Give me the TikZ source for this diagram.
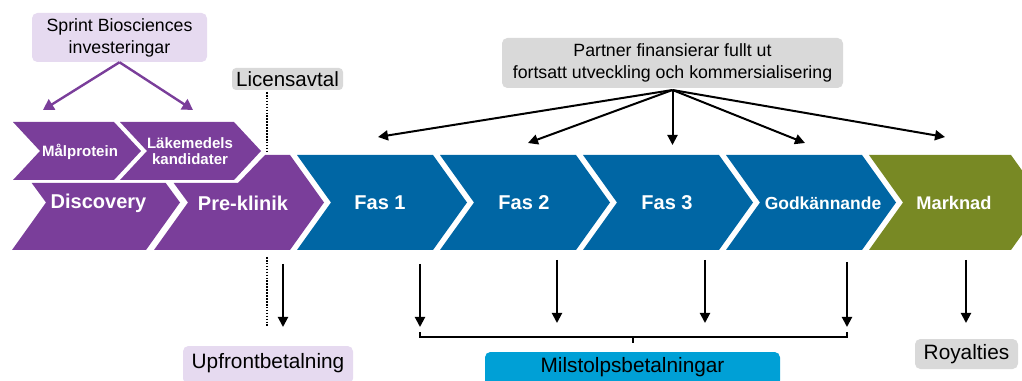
\documentclass[tikz,border=0pt]{standalone}
\usepackage{fontspec}
\setmainfont{Liberation Sans}
\usetikzlibrary{arrows.meta}
\definecolor{cpurple}{RGB}{122,62,154}
\definecolor{cblue}{RGB}{0,102,164}
\definecolor{cgreen}{RGB}{120,137,36}
\definecolor{lpurple}{RGB}{230,218,240}
\definecolor{lgray}{RGB}{217,217,217}
\definecolor{cyanbox}{RGB}{0,160,214}
\newcommand\bigchev[4]{% color, L, W, name
  \fill[#1] (#2,155) -- ({#2+#3},155) -- ({#2+#3+34},202.5) -- ({#2+#3},250) -- (#2,250) -- ({#2+34},202.5) -- cycle;}
\begin{document}
\begin{tikzpicture}[x=0.75pt,y=-0.75pt,
  arr/.style={line width=1.5pt,-{Triangle[length=7.5pt,width=7.5pt]}},
  parr/.style={line width=1.8pt,draw=cpurple,-{Triangle[length=8pt,width=9pt]}},
  blbl/.style={text=white,font=\bfseries\fontsize{15}{17}\selectfont,inner sep=0pt},
  slbl/.style={text=white,font=\bfseries\fontsize{11.25}{12}\selectfont,inner sep=0pt,align=center},
  box/.style={rounded corners=4pt,inner sep=0pt,text=black,align=center},
  bigtxt/.style={font=\fontsize{15.6}{18}\selectfont}]
\useasboundingbox (0,0) rectangle (1022,381);

% big chevrons
\fill[cpurple] (31.7,183) -- (165.7,183) -- (180,202.5) -- (146,250) -- (12,250) -- (46,202.5) -- cycle;
\fill[cpurple] (173.7,183) -- (238,183) -- (265,155) -- (290,155) -- (324,202.5) -- (290,250) -- (154,250) -- (188,202.5) -- cycle;
\bigchev{cblue}{297}{136}{f1}
\bigchev{cblue}{440}{136}{f2}
\bigchev{cblue}{583}{136}{f3}
\bigchev{cblue}{726}{136}{gk}
\bigchev{cgreen}{869}{142}{mk}

% small chevrons
\fill[cpurple] (13,122) -- (114,122) -- (141,151) -- (114,180) -- (13,180) -- (40,151) -- cycle;
\fill[cpurple] (120,122) -- (234,122) -- (261,151) -- (234,180) -- (120,180) -- (147,151) -- cycle;

% chevron labels
\node[slbl] (malp) at (80,152) {Målprotein};
\node[slbl] (lak) at (190,151) {Läkemedels\\kandidater};
\node[blbl] (disc) at (98.5,203) {Discovery};
\node[blbl] (prek) at (243,203) {Pre-klinik};
\node[blbl] (fas1) at (380,203) {Fas 1};
\node[blbl] (fas2) at (524,203) {Fas 2};
\node[blbl] (fas3) at (667,203) {Fas 3};
\node[blbl,font=\bfseries\fontsize{13.1}{15}\selectfont] (godk) at (823,203) {Godkännande};
\node[blbl,font=\bfseries\fontsize{13.7}{15}\selectfont] (mark) at (954,203) {Marknad};

% boxes
\node[box,fill=lpurple,minimum width=131.25pt,minimum height=36.75pt,
  font=\fontsize{13.3}{16.5}\selectfont] (sprint) at (119.5,37.5) {Sprint Biosciences\\investeringar};
\node[box,fill=lgray,minimum width=83.25pt,minimum height=16.5pt,
  font=\fontsize{15.4}{18}\selectfont,rounded corners=3pt] (lic) at (287.5,79) {Licensavtal};
\node[box,fill=lgray,minimum width=255.75pt,minimum height=37.5pt,
  font=\fontsize{13.3}{16.5}\selectfont] (partner) at (672.5,63) {Partner finansierar fullt ut\\fortsatt utveckling och kommersialisering};
\node[box,fill=lpurple,minimum width=127.5pt,minimum height=28.5pt,bigtxt,
  text depth=0pt] (upf) at (268,365) {};
\node[bigtxt] (upft) at (268,363) {Upfrontbetalning};
\node[box,fill=cyanbox,minimum width=221.25pt,minimum height=25.5pt] (mil) at (632.5,369) {};
\node[bigtxt] (milt) at (632.5,367) {Milstolpsbetalningar};
\node[box,fill=lgray,minimum width=77.25pt,minimum height=22.5pt,bigtxt] (roy) at (966.5,354) {Royalties};

% sprint arrows
\coordinate (s1) at (43,110);
\coordinate (s2) at (193,110);
\draw[parr] (sprint.south) -- (s1);
\draw[parr] (sprint.south) -- (s2);

% partner arrows
\coordinate (p0) at (672.5,90);
\coordinate (t1) at (378,137);
\coordinate (t2) at (528,143);
\coordinate (t3) at (672.5,145);
\coordinate (t4) at (805,143);
\coordinate (t5) at (945,137);
\foreach \t in {t1,t2,t3,t4,t5} \draw[arr] (p0) -- (\t);

% dotted license line
\coordinate (d1) at (267,92);
\coordinate (d2) at (267,153);
\coordinate (d3) at (267,257);
\coordinate (d4) at (267,327);
\draw[densely dotted,line width=1.2pt] (d1) -- (d2);
\draw[densely dotted,line width=1.2pt] (d3) -- (d4);

% payment arrows
\coordinate (u1) at (283,264); \coordinate (u2) at (283,327);
\coordinate (m1a) at (420,264); \coordinate (m1b) at (420,327);
\coordinate (m2a) at (557,260); \coordinate (m2b) at (557,323);
\coordinate (m3a) at (705,260); \coordinate (m3b) at (705,323);
\coordinate (m4a) at (847,262); \coordinate (m4b) at (847,327);
\coordinate (r1) at (966,260); \coordinate (r2) at (966,323);
\draw[arr] (u1) -- (u2);
\draw[arr] (m1a) -- (m1b);
\draw[arr] (m2a) -- (m2b);
\draw[arr] (m3a) -- (m3b);
\draw[arr] (m4a) -- (m4b);
\draw[arr] (r1) -- (r2);

% bracket
\coordinate (b1) at (420,332);
\coordinate (b2) at (847,332);
\coordinate (bm) at (633,337);
\draw[line width=1.3pt] (b1) -- (420,337) -- (847,337) -- (b2);
\draw[line width=1.3pt] (bm) -- ++(0,6);
\end{tikzpicture}
\end{document}
